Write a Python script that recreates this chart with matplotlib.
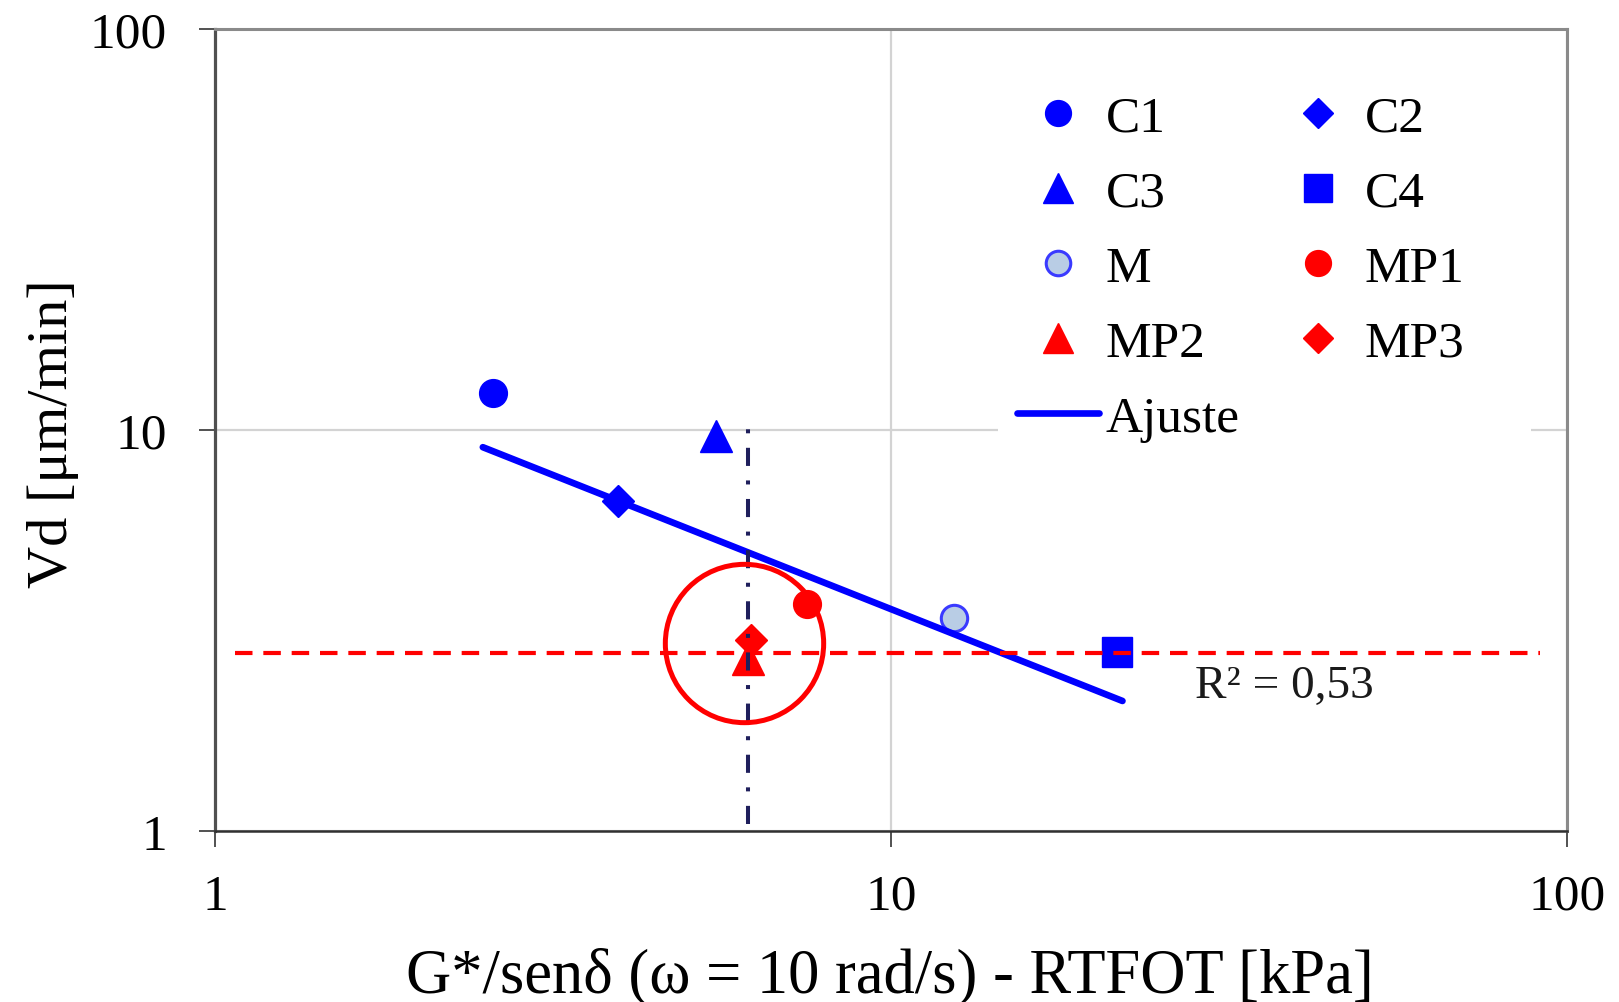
import matplotlib
matplotlib.use('Agg')
import matplotlib.pyplot as plt
from matplotlib.patches import Rectangle
from matplotlib.ticker import FixedLocator, FixedFormatter, NullLocator

plt.rcParams['font.family'] = ['Liberation Serif', 'DejaVu Serif']

# ---------------- data ----------------
series_names = ['C1', 'C2', 'C3', 'C4', 'M', 'MP1', 'MP2', 'MP3']
g_values = [2.58, 3.94, 5.51, 21.6, 12.4, 7.50, 6.15, 6.20]     # G*/sen(delta) [kPa]
vd_values = [12.4, 6.66, 9.65, 2.80, 3.39, 3.68, 2.69, 2.99]    # Vd [um/min]
fit_label = 'Ajuste'
fit_g = [2.49, 22.0]
fit_vd = [9.06, 2.11]
r2_text = 'R\u00b2 = 0,53'
r2_pos = (28.2, 2.16)
ref_vd = 2.78
ref_g_span = [1.07, 91.2]
ref_g = 6.15
ref_vd_span = [1.04, 10.2]
highlight_center = (6.07, 2.94)
x_ticks = [1, 10, 100]
x_tick_labels = ['1', '10', '100']
y_ticks = [1, 10, 100]
y_tick_labels = ['1', '10', '100']
x_label = 'G*/sen\u03b4 (\u03c9 = 10 rad/s) - RTFOT [kPa]'
y_label = 'Vd [\u03bcm/min]'

# ---------------- styles ----------------
BLUE = '#0000ff'
RED = '#ff0000'
styles = {
    'C1': dict(marker='o', ms=20, mfc=BLUE, mec=BLUE, mew=1),
    'C2': dict(marker='D', ms=16, mfc=BLUE, mec=BLUE, mew=1),
    'C3': dict(marker='^', ms=23, mfc=BLUE, mec=BLUE, mew=1),
    'C4': dict(marker='s', ms=21, mfc=BLUE, mec=BLUE, mew=1),
    'M': dict(marker='o', ms=19, mfc='#b9cde5', mec='#3a3aff', mew=2.2),
    'MP1': dict(marker='o', ms=20, mfc=RED, mec=RED, mew=1),
    'MP2': dict(marker='^', ms=23, mfc=RED, mec=RED, mew=1),
    'MP3': dict(marker='D', ms=16, mfc=RED, mec=RED, mew=1),
}

W, H = 1619, 1003
fig = plt.figure(figsize=(W / 100, H / 100), dpi=100)
ax_l, ax_r, ax_t, ax_b = 215, 1567, 30, 832
ax = fig.add_axes([ax_l / W, 1 - ax_b / H, (ax_r - ax_l) / W, (ax_b - ax_t) / H])

ax.set_xscale('log')
ax.set_yscale('log')
ax.set_xlim(x_ticks[0], x_ticks[-1])
ax.set_ylim(y_ticks[0], y_ticks[-1])

ax.xaxis.set_major_locator(FixedLocator(x_ticks))
ax.xaxis.set_major_formatter(FixedFormatter(x_tick_labels))
ax.yaxis.set_major_locator(FixedLocator(y_ticks))
ax.yaxis.set_major_formatter(FixedFormatter(y_tick_labels))
ax.xaxis.set_minor_locator(NullLocator())
ax.yaxis.set_minor_locator(NullLocator())

ax.set_axisbelow(True)
ax.grid(True, which='major', color='#d3d3d3', lw=1.6)

ax.tick_params(axis='both', which='major', direction='out', length=11.5,
               width=1.1, color='#222222', labelsize=37)
ax.tick_params(axis='x', pad=19)
ax.tick_params(axis='y', pad=23)

ax.spines['left'].set_color('#505050')
ax.spines['left'].set_linewidth(2.3)
ax.spines['bottom'].set_color('#303030')
ax.spines['bottom'].set_linewidth(1.8)
for s in ('top', 'right'):
    ax.spines[s].set_color('#8a8a8a')
    ax.spines[s].set_linewidth(2.2)

# white patch behind legend (hides grid there)
ax.add_patch(Rectangle(((998 - ax_l) / (ax_r - ax_l), (ax_b - 445) / (ax_b - ax_t)),
                       (1531 - 998) / (ax_r - ax_l), (445 - 60) / (ax_b - ax_t),
                       transform=ax.transAxes, facecolor='white', edgecolor='none',
                       zorder=1))

handles = {}
for name, gx, vy in zip(series_names, g_values, vd_values):
    h, = ax.plot([gx], [vy], linestyle='none', label=name, zorder=3, **styles[name])
    handles[name] = h

fit_h, = ax.plot(fit_g, fit_vd, color=BLUE, lw=4.8, solid_capstyle='round',
                 label=fit_label, zorder=4)
handles[fit_label] = fit_h

ax.plot(ref_g_span, [ref_vd, ref_vd], color=RED, lw=3, dashes=(4.2, 2.6), zorder=5)
ax.plot([ref_g, ref_g], ref_vd_span, color='#1f1f5c', lw=2.9,
        dashes=(4.5, 3.6, 1, 3.6), zorder=5)
ax.plot([highlight_center[0]], [highlight_center[1]], marker='o', ms=114,
        mfc='none', mec=RED, mew=3.6, linestyle='none', zorder=6)

ax.text(r2_pos[0], r2_pos[1], r2_text, fontsize=34, va='baseline', ha='left',
        color='#1a1a1a', zorder=6)

order = ['C1', 'C3', 'M', 'MP2', fit_label, 'C2', 'C4', 'MP1', 'MP3']
leg = ax.legend([handles[k] for k in order], order, ncol=2, loc='upper left',
                bbox_to_anchor=(1017 / W, 1 - 96 / H), bbox_transform=fig.transFigure,
                frameon=False, borderpad=0, borderaxespad=0, fontsize=37,
                handlelength=1.6, handletextpad=0.12, columnspacing=0.72,
                labelspacing=0.545, markerscale=0.93, numpoints=1)
leg.set_zorder(7)

ax.set_xlabel(x_label, fontsize=45)
ax.xaxis.label.set_va('baseline')
ax.xaxis.set_label_coords((889.5 - ax_l) / (ax_r - ax_l), (ax_b - 992) / (ax_b - ax_t))
ax.set_ylabel(y_label, fontsize=42)
ax.yaxis.label.set_va('baseline')
ax.yaxis.set_label_coords((67 - ax_l) / (ax_r - ax_l), (ax_b - 434) / (ax_b - ax_t))

fig.savefig('out.png', dpi=100, facecolor='white')
